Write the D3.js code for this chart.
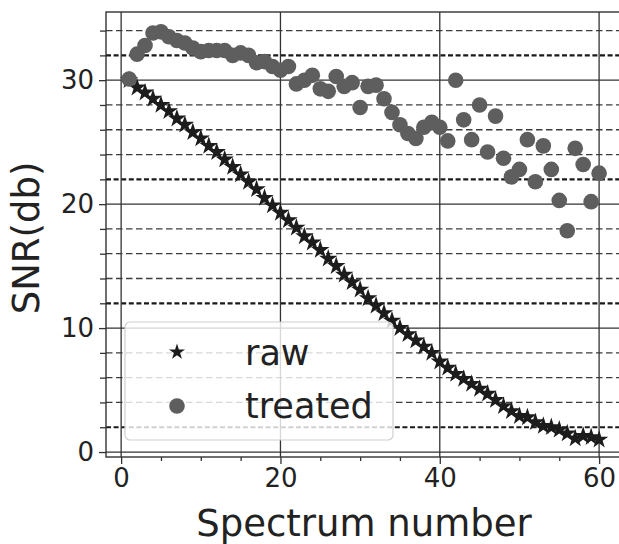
<!DOCTYPE html>
<html>
<head>
<meta charset="utf-8">
<script src="https://cdn.jsdelivr.net/npm/d3@7"></script>
<style>
  html, body { margin: 0; padding: 0; background: #fff; }
  svg { display: block; font-family: "DejaVu Sans", sans-serif; }
</style>
</head>
<body>
<svg id="chart" width="619" height="544"></svg>
<script>
// Spectrum index 1..60
const spectrum = d3.range(1, 61);

// SNR (dB) before processing
const rawSNR = [
  30.0, 29.4, 29.0, 28.5, 28.0, 27.5, 26.9, 26.4, 25.8, 25.3,
  24.7, 24.2, 23.6, 23.0, 22.4, 21.8, 21.2, 20.5, 19.9, 19.3,
  18.7, 18.1, 17.4, 16.9, 16.3, 15.6, 15.0, 14.3, 13.7, 13.1,
  12.4, 11.8, 11.2, 10.6, 10.0, 9.5, 9.0, 8.5, 8.0, 7.3,
  6.8, 6.3, 5.9, 5.5, 5.1, 4.7, 4.2, 3.7, 3.3, 2.9,
  2.8, 2.4, 2.1, 2.0, 1.8, 1.5, 1.1, 1.3, 1.2, 1.0
];

// SNR (dB) after processing
const treatedSNR = [
  30.1, 32.1, 32.8, 33.8, 33.9, 33.5, 33.2, 33.0, 32.6, 32.3,
  32.4, 32.4, 32.4, 32.0, 32.2, 32.0, 31.4, 31.5, 31.1, 30.8,
  31.1, 29.7, 30.0, 30.4, 29.3, 29.1, 30.3, 29.5, 29.8, 27.8,
  29.5, 29.6, 28.5, 27.4, 26.4, 25.7, 25.3, 26.2, 26.6, 26.2,
  25.1, 30.0, 26.8, 25.2, 28.0, 24.2, 27.1, 23.7, 22.2, 22.8,
  25.2, 21.8, 24.7, 22.8, 20.3, 17.85, 24.5, 23.2, 20.2, 22.5
];

const xMajorTicks = [0, 20, 40, 60];
const xMinorTicks = [5, 10, 15, 25, 30, 35, 45, 50, 55];
const yMajorTicks = [0, 10, 20, 30];
const yMinorTicks = [2, 4, 6, 8, 12, 14, 16, 18, 22, 24, 26, 28, 32, 34];
const yStrongMinor = [2, 12, 22, 32];

const seriesNames = ["raw", "treated"];
const xTitle = "Spectrum number";
const yTitle = "SNR(db)";

const svg = d3.select("#chart");
const frame = { left: 106, top: 12, right: 623, bottom: 457 };

const x = d3.scaleLinear().domain([-1.9, 63]).range([frame.left, frame.right]);
const y = d3.scaleLinear().domain([-0.4, 35.5]).range([frame.bottom, frame.top]);

const textColor = "#222";
const starColor = "#1c1c1c";
const dotColor = "#5e5e5e";

const plot = svg.append("g");
plot.append("defs").append("clipPath").attr("id", "clip")
  .append("rect").attr("x", frame.left).attr("y", frame.top)
  .attr("width", frame.right - frame.left).attr("height", frame.bottom - frame.top);

const grid = plot.append("g").attr("clip-path", "url(#clip)");

// dashed minor horizontal grid
grid.selectAll("line.hminor").data(yMinorTicks).join("line")
  .attr("x1", frame.left).attr("x2", frame.right)
  .attr("y1", d => y(d)).attr("y2", d => y(d))
  .attr("stroke", d => yStrongMinor.includes(d) ? "#1a1a1a" : "#3c3c3c")
  .attr("stroke-width", d => yStrongMinor.includes(d) ? 2.2 : 1.3)
  .attr("stroke-dasharray", d => yStrongMinor.includes(d) ? "5,2.6" : "6.5,3.5");

// solid major grid
grid.selectAll("line.hmajor").data(yMajorTicks).join("line")
  .attr("x1", frame.left).attr("x2", frame.right)
  .attr("y1", d => y(d)).attr("y2", d => y(d))
  .attr("stroke", "#333").attr("stroke-width", 1.3);
grid.selectAll("line.vmajor").data(xMajorTicks).join("line")
  .attr("y1", frame.top).attr("y2", frame.bottom)
  .attr("x1", d => x(d)).attr("x2", d => x(d))
  .attr("stroke", "#333").attr("stroke-width", 1.3);

// raw series: stars
const star = d3.symbol().type(d3.symbolStar).size(105);
plot.append("g").selectAll("path").data(spectrum).join("path")
  .attr("d", star)
  .attr("transform", (d, i) => `translate(${x(d)},${y(rawSNR[i])})`)
  .attr("fill", starColor);

// treated series: dots
plot.append("g").selectAll("circle").data(spectrum).join("circle")
  .attr("cx", d => x(d)).attr("cy", (d, i) => y(treatedSNR[i]))
  .attr("r", 7.8).attr("fill", dotColor);

// frame
plot.append("rect")
  .attr("x", frame.left).attr("y", frame.top)
  .attr("width", frame.right - frame.left).attr("height", frame.bottom - frame.top)
  .attr("fill", "none").attr("stroke", "#333").attr("stroke-width", 1.4);

// axes
svg.append("g").attr("transform", `translate(${frame.left},0)`)
  .call(d3.axisLeft(y).tickValues(yMajorTicks).tickSize(7).tickPadding(5).tickFormat(d3.format("d")));
svg.append("g").attr("transform", `translate(${frame.left},0)`)
  .call(d3.axisLeft(y).tickValues(yMinorTicks).tickSize(6).tickFormat(""));
svg.append("g").attr("transform", `translate(0,${frame.bottom})`)
  .call(d3.axisBottom(x).tickValues(xMajorTicks).tickSize(7).tickPadding(5).tickFormat(d3.format("d")));
svg.append("g").attr("transform", `translate(0,${frame.bottom})`)
  .call(d3.axisBottom(x).tickValues(xMinorTicks).tickSize(4).tickFormat(""));

svg.selectAll(".domain").remove();
svg.selectAll(".tick line").attr("stroke", "#333").attr("stroke-width", 1.3);
svg.selectAll(".tick text").attr("fill", textColor).style("font-size", "26px")
  .style("font-family", "'DejaVu Sans', sans-serif");

// axis titles
svg.append("text").attr("x", 364).attr("y", 536).attr("text-anchor", "middle")
  .attr("fill", textColor).style("font-size", "37px").text(xTitle);
svg.append("text").attr("transform", "translate(39,238) rotate(-90)")
  .attr("text-anchor", "middle").attr("fill", textColor)
  .style("font-size", "37px").text(yTitle);

// legend
const legend = svg.append("g");
legend.append("rect").attr("x", 125).attr("y", 322).attr("width", 268).attr("height", 118)
  .attr("rx", 5).attr("fill", "#fff").attr("fill-opacity", 0.8)
  .attr("stroke", "#d0d0d0").attr("stroke-width", 1.2);
legend.append("path").attr("d", d3.symbol().type(d3.symbolStar).size(80))
  .attr("transform", "translate(177,352)").attr("fill", starColor);
legend.append("circle").attr("cx", 177).attr("cy", 406).attr("r", 7.8).attr("fill", dotColor);
legend.selectAll("text").data(seriesNames).join("text")
  .attr("x", 245).attr("y", (d, i) => i === 0 ? 365 : 418)
  .attr("fill", textColor).style("font-size", "35px").text(d => d);
</script>
</body>
</html>
